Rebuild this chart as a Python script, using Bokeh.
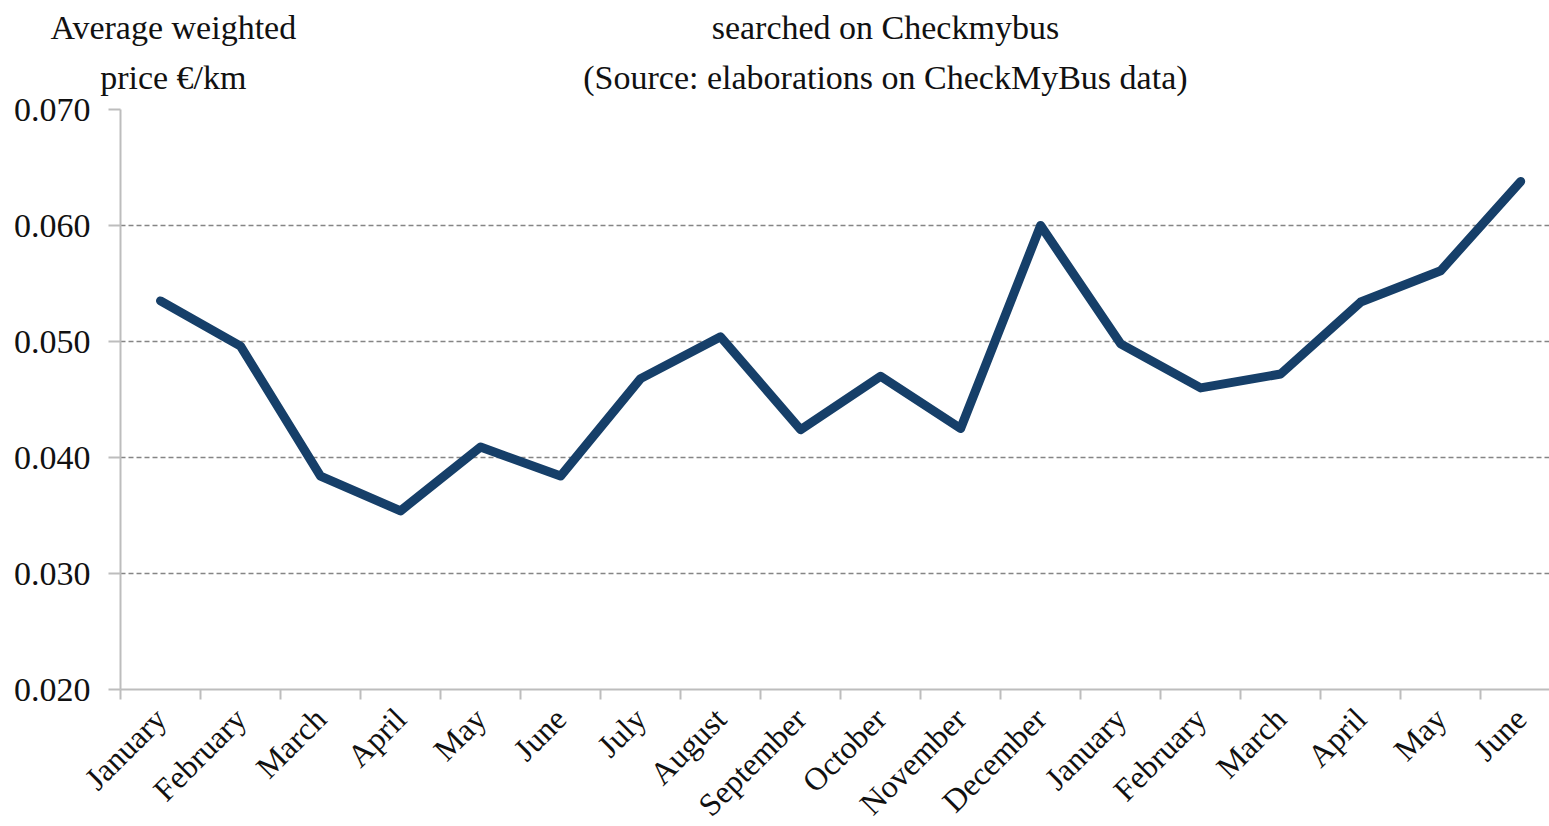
import math
from bokeh.plotting import figure
from bokeh.models import FixedTicker, Range1d, NumeralTickFormatter, LinearAxis
from bokeh.embed import file_html
from bokeh.resources import INLINE

months = ["January", "February", "March", "April", "May", "June", "July", "August",
          "September", "October", "November", "December", "January", "February",
          "March", "April", "May", "June"]
prices = [0.0535, 0.0496, 0.0384, 0.0354, 0.0409, 0.0384, 0.0468, 0.0504, 0.0424,
          0.0470, 0.0425, 0.0600, 0.0498, 0.0460, 0.0472, 0.0534, 0.0561, 0.0638]
y_ticks = [0.020, 0.030, 0.040, 0.050, 0.060, 0.070]
title_lines = ["searched on Checkmybus", "(Source: elaborations on CheckMyBus data)"]
ylabel_lines = ["Average weighted", "price \u20ac/km"]

FONT = "Liberation Serif"
LEFT, TOP = 120, 109
xs = [i + 0.5 for i in range(len(months))]
# horizontal anchor (in category units) of the axis-title block and of the chart title block
YLABEL_X, TITLE_X = 0.66, 9.56

p = figure(frame_width=1429, frame_height=580, x_range=Range1d(0, 17.86), y_range=Range1d(0.020, 0.070),
           output_backend="svg", toolbar_location=None,
           min_border_left=LEFT, min_border_right=0, min_border_top=TOP, min_border_bottom=0)
p.outline_line_color = None
p.background_fill_color = "white"
p.xgrid.grid_line_color = None
p.ygrid.grid_line_color = "#858585"
p.ygrid.grid_line_dash = "5 3"
p.ygrid.grid_line_width = 1.4

p.line(xs, prices, line_color="#163f69", line_width=9, line_join="round", line_cap="round")

ya = p.yaxis[0]
ya.ticker = FixedTicker(ticks=y_ticks)
ya.formatter = NumeralTickFormatter(format="0.000")
ya.major_tick_out = 12
ya.major_tick_in = 0
ya.minor_tick_out = 0
ya.minor_tick_in = 0
ya.axis_line_color = "#bdbdbd"
ya.axis_line_width = 2
ya.major_tick_line_color = "#bdbdbd"
ya.major_tick_line_width = 2
ya.major_label_text_font = FONT
ya.major_label_text_font_size = "34px"
ya.major_label_text_color = "#111111"
ya.major_label_standoff = 18

xa = p.xaxis[0]
xa.ticker = FixedTicker(ticks=xs, minor_ticks=list(range(0, 18)))
xa.major_label_overrides = {x: m for x, m in zip(xs, months)}
xa.major_tick_out = 0
xa.major_tick_in = 0
xa.minor_tick_out = 10
xa.minor_tick_in = 0
xa.minor_tick_line_color = "#bdbdbd"
xa.minor_tick_line_width = 2
xa.axis_line_color = "#bdbdbd"
xa.axis_line_width = 2
xa.major_label_orientation = math.pi / 4
xa.major_label_text_font = FONT
xa.major_label_text_font_size = "32px"
xa.major_label_text_color = "#111111"
xa.major_label_standoff = 14

def text_row(left_text, center_text, standoff):
    ax = LinearAxis(ticker=FixedTicker(ticks=[YLABEL_X, TITLE_X], minor_ticks=[]),
                    major_label_overrides={YLABEL_X: left_text, TITLE_X: center_text},
                    axis_line_color=None, major_tick_line_color=None, minor_tick_line_color=None,
                    major_tick_out=0, major_tick_in=0, minor_tick_out=0, minor_tick_in=0,
                    major_label_standoff=standoff, major_label_orientation="horizontal",
                    major_label_text_font=FONT, major_label_text_font_size="34px",
                    major_label_text_color="#111111")
    p.add_layout(ax, "above")

text_row(ylabel_lines[1], title_lines[1], 14)   # nearer the plot
text_row(ylabel_lines[0], title_lines[0], 10)   # top row

open("out.html", "w").write(file_html(p, INLINE))
